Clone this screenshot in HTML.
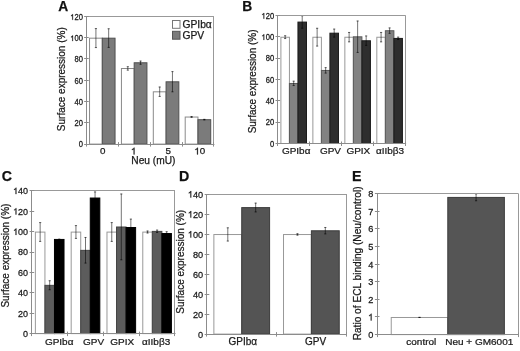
<!DOCTYPE html>
<html><head><meta charset="utf-8"><style>
html,body{margin:0;padding:0;background:#fff;width:520px;height:351px;overflow:hidden}
svg{display:block;will-change:transform;filter:blur(0.3px)}
text{font-family:"Liberation Sans", sans-serif;stroke:#1a1a1a;stroke-width:0.25px}
</style></head><body>
<svg width="520" height="351" viewBox="0 0 520 351">
<rect width="520" height="351" fill="#fff"/>
<rect x="89.54" y="38.18" width="12.76" height="105.92" fill="#ffffff" stroke="#8a8a8a" stroke-width="1"/>
<rect x="102.29" y="38.18" width="12.76" height="105.92" fill="#7b7b7b" stroke="#505050" stroke-width="1"/>
<rect x="121.43" y="68.51" width="12.76" height="75.59" fill="#ffffff" stroke="#8a8a8a" stroke-width="1"/>
<rect x="134.18" y="62.77" width="12.76" height="81.33" fill="#7b7b7b" stroke="#505050" stroke-width="1"/>
<rect x="153.31" y="91.82" width="12.76" height="52.28" fill="#ffffff" stroke="#8a8a8a" stroke-width="1"/>
<rect x="166.07" y="81.81" width="12.76" height="62.29" fill="#7b7b7b" stroke="#505050" stroke-width="1"/>
<rect x="185.20" y="117.04" width="12.76" height="27.06" fill="#ffffff" stroke="#8a8a8a" stroke-width="1"/>
<rect x="197.96" y="119.70" width="12.76" height="24.40" fill="#7b7b7b" stroke="#505050" stroke-width="1"/>
<line x1="95.92" y1="28.28" x2="95.92" y2="47.88" stroke="#000" stroke-width="0.55"/>
<line x1="94.82" y1="28.58" x2="97.02" y2="28.58" stroke="#000" stroke-width="0.55"/>
<line x1="94.82" y1="47.58" x2="97.02" y2="47.58" stroke="#000" stroke-width="0.55"/>
<line x1="108.67" y1="28.48" x2="108.67" y2="47.68" stroke="#000" stroke-width="0.55"/>
<line x1="107.57" y1="28.78" x2="109.77" y2="28.78" stroke="#000" stroke-width="0.55"/>
<line x1="107.57" y1="47.38" x2="109.77" y2="47.38" stroke="#000" stroke-width="0.55"/>
<line x1="127.80" y1="66.41" x2="127.80" y2="70.41" stroke="#000" stroke-width="0.55"/>
<line x1="126.70" y1="66.71" x2="128.90" y2="66.71" stroke="#000" stroke-width="0.55"/>
<line x1="126.70" y1="70.11" x2="128.90" y2="70.11" stroke="#000" stroke-width="0.55"/>
<line x1="140.56" y1="60.77" x2="140.56" y2="64.57" stroke="#000" stroke-width="0.55"/>
<line x1="139.46" y1="61.07" x2="141.66" y2="61.07" stroke="#000" stroke-width="0.55"/>
<line x1="139.46" y1="64.27" x2="141.66" y2="64.27" stroke="#000" stroke-width="0.55"/>
<line x1="159.69" y1="86.72" x2="159.69" y2="96.72" stroke="#000" stroke-width="0.55"/>
<line x1="158.59" y1="87.02" x2="160.79" y2="87.02" stroke="#000" stroke-width="0.55"/>
<line x1="158.59" y1="96.42" x2="160.79" y2="96.42" stroke="#000" stroke-width="0.55"/>
<line x1="172.45" y1="71.31" x2="172.45" y2="92.11" stroke="#000" stroke-width="0.55"/>
<line x1="171.35" y1="71.61" x2="173.55" y2="71.61" stroke="#000" stroke-width="0.55"/>
<line x1="171.35" y1="91.81" x2="173.55" y2="91.81" stroke="#000" stroke-width="0.55"/>
<line x1="191.58" y1="116.24" x2="191.58" y2="117.64" stroke="#000" stroke-width="0.55"/>
<line x1="190.48" y1="116.54" x2="192.68" y2="116.54" stroke="#000" stroke-width="0.55"/>
<line x1="190.48" y1="117.34" x2="192.68" y2="117.34" stroke="#000" stroke-width="0.55"/>
<line x1="204.33" y1="119.00" x2="204.33" y2="120.20" stroke="#000" stroke-width="0.55"/>
<line x1="203.23" y1="119.30" x2="205.43" y2="119.30" stroke="#000" stroke-width="0.55"/>
<line x1="203.23" y1="119.90" x2="205.43" y2="119.90" stroke="#000" stroke-width="0.55"/>
<line x1="86.35" y1="16.50" x2="213.90" y2="16.50" stroke="#999" stroke-width="1"/>
<line x1="213.50" y1="16.40" x2="213.50" y2="144.10" stroke="#999" stroke-width="1"/>
<line x1="86.50" y1="16.40" x2="86.50" y2="144.10" stroke="#8c8c8c" stroke-width="1"/>
<line x1="85.85" y1="144.50" x2="214.40" y2="144.50" stroke="#8c8c8c" stroke-width="1"/>
<line x1="84.15" y1="144.50" x2="88.75" y2="144.50" stroke="#8c8c8c" stroke-width="1"/>
<text transform="translate(82.90 147.49) scale(1 1.08)" font-size="7.6" text-anchor="end" font-weight="normal" fill="#1a1a1a">0</text>
<line x1="84.15" y1="122.50" x2="88.75" y2="122.50" stroke="#8c8c8c" stroke-width="1"/>
<text transform="translate(82.90 126.21) scale(1 1.08)" font-size="7.6" text-anchor="end" font-weight="normal" fill="#1a1a1a">20</text>
<line x1="84.15" y1="101.50" x2="88.75" y2="101.50" stroke="#8c8c8c" stroke-width="1"/>
<text transform="translate(82.90 104.92) scale(1 1.08)" font-size="7.6" text-anchor="end" font-weight="normal" fill="#1a1a1a">40</text>
<line x1="84.15" y1="80.50" x2="88.75" y2="80.50" stroke="#8c8c8c" stroke-width="1"/>
<text transform="translate(82.90 83.64) scale(1 1.08)" font-size="7.6" text-anchor="end" font-weight="normal" fill="#1a1a1a">60</text>
<line x1="84.15" y1="58.50" x2="88.75" y2="58.50" stroke="#8c8c8c" stroke-width="1"/>
<text transform="translate(82.90 62.36) scale(1 1.08)" font-size="7.6" text-anchor="end" font-weight="normal" fill="#1a1a1a">80</text>
<line x1="84.15" y1="37.50" x2="88.75" y2="37.50" stroke="#8c8c8c" stroke-width="1"/>
<text transform="translate(82.90 41.07) scale(1 1.08)" font-size="7.6" text-anchor="end" font-weight="normal" fill="#1a1a1a">&#8199;00</text>
<path transform="translate(70.220 41.072) scale(0.003711 -0.004008)" d="M 750 0 L 570 0 L 570 1100 C 480 1020 340 950 215 910 L 215 1080 C 390 1140 540 1260 620 1409 L 750 1409 Z" fill="#1a1a1a" stroke="#1a1a1a" stroke-width="0.25" vector-effect="non-scaling-stroke"/>
<line x1="84.15" y1="16.50" x2="88.75" y2="16.50" stroke="#8c8c8c" stroke-width="1"/>
<text transform="translate(82.90 19.79) scale(1 1.08)" font-size="7.6" text-anchor="end" font-weight="normal" fill="#1a1a1a">&#8199;20</text>
<path transform="translate(70.220 19.788) scale(0.003711 -0.004008)" d="M 750 0 L 570 0 L 570 1100 C 480 1020 340 950 215 910 L 215 1080 C 390 1140 540 1260 620 1409 L 750 1409 Z" fill="#1a1a1a" stroke="#1a1a1a" stroke-width="0.25" vector-effect="non-scaling-stroke"/>
<line x1="86.50" y1="142.10" x2="86.50" y2="146.60" stroke="#8c8c8c" stroke-width="1"/>
<line x1="118.50" y1="142.10" x2="118.50" y2="146.60" stroke="#8c8c8c" stroke-width="1"/>
<line x1="150.50" y1="142.10" x2="150.50" y2="146.60" stroke="#8c8c8c" stroke-width="1"/>
<line x1="182.50" y1="142.10" x2="182.50" y2="146.60" stroke="#8c8c8c" stroke-width="1"/>
<line x1="213.50" y1="142.10" x2="213.50" y2="146.60" stroke="#8c8c8c" stroke-width="1"/>
<text x="58.20" y="10.60" font-size="13.8" text-anchor="start" font-weight="bold" fill="#111">A</text>
<rect x="172.50" y="20.50" width="7.50" height="7.80" fill="#fff" stroke="#777" stroke-width="1"/>
<rect x="172.50" y="31.30" width="7.50" height="7.90" fill="#7b7b7b" stroke="#555" stroke-width="1"/>
<text x="182.40" y="28.20" font-size="10.3" text-anchor="start" font-weight="normal" fill="#1a1a1a">GPIb&#945;</text>
<text x="182.40" y="38.80" font-size="10.3" text-anchor="start" font-weight="normal" fill="#1a1a1a">GPV</text>
<text x="100.00" y="154.40" font-size="9.8" text-anchor="start" font-weight="normal" fill="#1a1a1a">0</text>
<text x="130.90" y="154.40" font-size="9.8" text-anchor="start" font-weight="normal" fill="#1a1a1a">&#8199;</text>
<path transform="translate(130.900 154.400) scale(0.004785 -0.004785)" d="M 750 0 L 570 0 L 570 1100 C 480 1020 340 950 215 910 L 215 1080 C 390 1140 540 1260 620 1409 L 750 1409 Z" fill="#1a1a1a" stroke="#1a1a1a" stroke-width="0.25" vector-effect="non-scaling-stroke"/>
<text x="165.40" y="154.40" font-size="9.8" text-anchor="start" font-weight="normal" fill="#1a1a1a">5</text>
<text x="194.30" y="154.40" font-size="9.8" text-anchor="start" font-weight="normal" fill="#1a1a1a">&#8199;0</text>
<path transform="translate(194.300 154.400) scale(0.004785 -0.004785)" d="M 750 0 L 570 0 L 570 1100 C 480 1020 340 950 215 910 L 215 1080 C 390 1140 540 1260 620 1409 L 750 1409 Z" fill="#1a1a1a" stroke="#1a1a1a" stroke-width="0.25" vector-effect="non-scaling-stroke"/>
<text x="131.30" y="163.80" font-size="10.2" text-anchor="start" font-weight="normal" fill="#1a1a1a">Neu (mU)</text>
<text x="65.00" y="79.20" font-size="10" text-anchor="middle" font-weight="normal" fill="#1a1a1a" transform="rotate(-90 65.00 79.20)">Surface expression (%)</text>
<rect x="280.90" y="37.25" width="8.53" height="106.25" fill="#ffffff" stroke="#999" stroke-width="1"/>
<rect x="289.42" y="83.47" width="8.53" height="60.03" fill="#828282" stroke="#5a5a5a" stroke-width="1"/>
<rect x="297.95" y="22.09" width="8.53" height="121.41" fill="#2e2e2e" stroke="#1a1a1a" stroke-width="1"/>
<rect x="312.87" y="37.25" width="8.53" height="106.25" fill="#ffffff" stroke="#999" stroke-width="1"/>
<rect x="321.40" y="70.45" width="8.53" height="73.05" fill="#828282" stroke="#5a5a5a" stroke-width="1"/>
<rect x="329.93" y="33.19" width="8.53" height="110.31" fill="#2e2e2e" stroke="#1a1a1a" stroke-width="1"/>
<rect x="344.85" y="37.25" width="8.53" height="106.25" fill="#ffffff" stroke="#999" stroke-width="1"/>
<rect x="353.37" y="36.82" width="8.53" height="106.68" fill="#828282" stroke="#5a5a5a" stroke-width="1"/>
<rect x="361.90" y="40.77" width="8.53" height="102.73" fill="#2e2e2e" stroke="#1a1a1a" stroke-width="1"/>
<rect x="376.82" y="37.25" width="8.53" height="106.25" fill="#ffffff" stroke="#999" stroke-width="1"/>
<rect x="385.35" y="30.74" width="8.53" height="112.76" fill="#828282" stroke="#5a5a5a" stroke-width="1"/>
<rect x="393.88" y="38.42" width="8.53" height="105.08" fill="#2e2e2e" stroke="#1a1a1a" stroke-width="1"/>
<line x1="285.16" y1="35.45" x2="285.16" y2="38.85" stroke="#000" stroke-width="0.55"/>
<line x1="284.06" y1="35.75" x2="286.26" y2="35.75" stroke="#000" stroke-width="0.55"/>
<line x1="284.06" y1="38.55" x2="286.26" y2="38.55" stroke="#000" stroke-width="0.55"/>
<line x1="293.69" y1="80.87" x2="293.69" y2="85.87" stroke="#000" stroke-width="0.55"/>
<line x1="292.59" y1="81.17" x2="294.79" y2="81.17" stroke="#000" stroke-width="0.55"/>
<line x1="292.59" y1="85.57" x2="294.79" y2="85.57" stroke="#000" stroke-width="0.55"/>
<line x1="302.21" y1="15.49" x2="302.21" y2="28.49" stroke="#000" stroke-width="0.55"/>
<line x1="301.11" y1="15.79" x2="303.31" y2="15.79" stroke="#000" stroke-width="0.55"/>
<line x1="301.11" y1="28.19" x2="303.31" y2="28.19" stroke="#000" stroke-width="0.55"/>
<line x1="317.14" y1="27.95" x2="317.14" y2="46.35" stroke="#000" stroke-width="0.55"/>
<line x1="316.04" y1="28.25" x2="318.24" y2="28.25" stroke="#000" stroke-width="0.55"/>
<line x1="316.04" y1="46.05" x2="318.24" y2="46.05" stroke="#000" stroke-width="0.55"/>
<line x1="325.66" y1="67.35" x2="325.66" y2="73.35" stroke="#000" stroke-width="0.55"/>
<line x1="324.56" y1="67.65" x2="326.76" y2="67.65" stroke="#000" stroke-width="0.55"/>
<line x1="324.56" y1="73.05" x2="326.76" y2="73.05" stroke="#000" stroke-width="0.55"/>
<line x1="334.19" y1="28.79" x2="334.19" y2="37.39" stroke="#000" stroke-width="0.55"/>
<line x1="333.09" y1="29.09" x2="335.29" y2="29.09" stroke="#000" stroke-width="0.55"/>
<line x1="333.09" y1="37.09" x2="335.29" y2="37.09" stroke="#000" stroke-width="0.55"/>
<line x1="349.11" y1="32.15" x2="349.11" y2="42.15" stroke="#000" stroke-width="0.55"/>
<line x1="348.01" y1="32.45" x2="350.21" y2="32.45" stroke="#000" stroke-width="0.55"/>
<line x1="348.01" y1="41.85" x2="350.21" y2="41.85" stroke="#000" stroke-width="0.55"/>
<line x1="357.64" y1="20.72" x2="357.64" y2="52.72" stroke="#000" stroke-width="0.55"/>
<line x1="356.54" y1="21.02" x2="358.74" y2="21.02" stroke="#000" stroke-width="0.55"/>
<line x1="356.54" y1="52.42" x2="358.74" y2="52.42" stroke="#000" stroke-width="0.55"/>
<line x1="366.16" y1="35.67" x2="366.16" y2="45.67" stroke="#000" stroke-width="0.55"/>
<line x1="365.06" y1="35.97" x2="367.26" y2="35.97" stroke="#000" stroke-width="0.55"/>
<line x1="365.06" y1="45.37" x2="367.26" y2="45.37" stroke="#000" stroke-width="0.55"/>
<line x1="381.09" y1="32.15" x2="381.09" y2="42.15" stroke="#000" stroke-width="0.55"/>
<line x1="379.99" y1="32.45" x2="382.19" y2="32.45" stroke="#000" stroke-width="0.55"/>
<line x1="379.99" y1="41.85" x2="382.19" y2="41.85" stroke="#000" stroke-width="0.55"/>
<line x1="389.61" y1="27.64" x2="389.61" y2="33.64" stroke="#000" stroke-width="0.55"/>
<line x1="388.51" y1="27.94" x2="390.71" y2="27.94" stroke="#000" stroke-width="0.55"/>
<line x1="388.51" y1="33.34" x2="390.71" y2="33.34" stroke="#000" stroke-width="0.55"/>
<line x1="398.14" y1="36.82" x2="398.14" y2="39.82" stroke="#000" stroke-width="0.55"/>
<line x1="397.04" y1="37.12" x2="399.24" y2="37.12" stroke="#000" stroke-width="0.55"/>
<line x1="397.04" y1="39.52" x2="399.24" y2="39.52" stroke="#000" stroke-width="0.55"/>
<line x1="277.70" y1="15.50" x2="405.60" y2="15.50" stroke="#999" stroke-width="1"/>
<line x1="405.50" y1="15.40" x2="405.50" y2="143.50" stroke="#999" stroke-width="1"/>
<line x1="277.50" y1="15.40" x2="277.50" y2="143.50" stroke="#8c8c8c" stroke-width="1"/>
<line x1="277.20" y1="143.50" x2="406.10" y2="143.50" stroke="#8c8c8c" stroke-width="1"/>
<line x1="275.50" y1="143.50" x2="280.10" y2="143.50" stroke="#8c8c8c" stroke-width="1"/>
<text transform="translate(274.10 146.74) scale(1 1.08)" font-size="7.6" text-anchor="end" font-weight="normal" fill="#1a1a1a">0</text>
<line x1="275.50" y1="122.50" x2="280.10" y2="122.50" stroke="#8c8c8c" stroke-width="1"/>
<text transform="translate(274.10 125.39) scale(1 1.08)" font-size="7.6" text-anchor="end" font-weight="normal" fill="#1a1a1a">20</text>
<line x1="275.50" y1="100.50" x2="280.10" y2="100.50" stroke="#8c8c8c" stroke-width="1"/>
<text transform="translate(274.10 104.04) scale(1 1.08)" font-size="7.6" text-anchor="end" font-weight="normal" fill="#1a1a1a">40</text>
<line x1="275.50" y1="79.50" x2="280.10" y2="79.50" stroke="#8c8c8c" stroke-width="1"/>
<text transform="translate(274.10 82.69) scale(1 1.08)" font-size="7.6" text-anchor="end" font-weight="normal" fill="#1a1a1a">60</text>
<line x1="275.50" y1="58.50" x2="280.10" y2="58.50" stroke="#8c8c8c" stroke-width="1"/>
<text transform="translate(274.10 61.34) scale(1 1.08)" font-size="7.6" text-anchor="end" font-weight="normal" fill="#1a1a1a">80</text>
<line x1="275.50" y1="36.50" x2="280.10" y2="36.50" stroke="#8c8c8c" stroke-width="1"/>
<text transform="translate(274.10 39.99) scale(1 1.08)" font-size="7.6" text-anchor="end" font-weight="normal" fill="#1a1a1a">&#8199;00</text>
<path transform="translate(261.420 39.988) scale(0.003711 -0.004008)" d="M 750 0 L 570 0 L 570 1100 C 480 1020 340 950 215 910 L 215 1080 C 390 1140 540 1260 620 1409 L 750 1409 Z" fill="#1a1a1a" stroke="#1a1a1a" stroke-width="0.25" vector-effect="non-scaling-stroke"/>
<line x1="275.50" y1="15.50" x2="280.10" y2="15.50" stroke="#8c8c8c" stroke-width="1"/>
<text transform="translate(274.10 18.64) scale(1 1.08)" font-size="7.6" text-anchor="end" font-weight="normal" fill="#1a1a1a">&#8199;20</text>
<path transform="translate(261.420 18.638) scale(0.003711 -0.004008)" d="M 750 0 L 570 0 L 570 1100 C 480 1020 340 950 215 910 L 215 1080 C 390 1140 540 1260 620 1409 L 750 1409 Z" fill="#1a1a1a" stroke="#1a1a1a" stroke-width="0.25" vector-effect="non-scaling-stroke"/>
<line x1="277.50" y1="141.50" x2="277.50" y2="146.00" stroke="#8c8c8c" stroke-width="1"/>
<line x1="309.50" y1="141.50" x2="309.50" y2="146.00" stroke="#8c8c8c" stroke-width="1"/>
<line x1="341.50" y1="141.50" x2="341.50" y2="146.00" stroke="#8c8c8c" stroke-width="1"/>
<line x1="373.50" y1="141.50" x2="373.50" y2="146.00" stroke="#8c8c8c" stroke-width="1"/>
<line x1="405.50" y1="141.50" x2="405.50" y2="146.00" stroke="#8c8c8c" stroke-width="1"/>
<text x="242.30" y="10.60" font-size="13.8" text-anchor="start" font-weight="bold" fill="#111">B</text>
<text transform="translate(281.90 153.70) scale(1 0.97)" font-size="10" text-anchor="start" font-weight="normal" fill="#1a1a1a">GPIb&#945;</text>
<text transform="translate(319.90 153.70) scale(1 0.97)" font-size="10" text-anchor="start" font-weight="normal" fill="#1a1a1a">GPV</text>
<text transform="translate(346.40 153.70) scale(1 0.97)" font-size="10" text-anchor="start" font-weight="normal" fill="#1a1a1a">GPIX</text>
<text transform="translate(375.90 153.70) scale(1 0.97)" font-size="10" text-anchor="start" font-weight="normal" fill="#1a1a1a">&#945;IIb&#946;3</text>
<text x="256.00" y="81.40" font-size="10" text-anchor="middle" font-weight="normal" fill="#1a1a1a" transform="rotate(-90 256.00 81.40)">Surface expression (%)</text>
<rect x="35.38" y="232.10" width="9.55" height="101.50" fill="#ffffff" stroke="#999" stroke-width="1"/>
<rect x="44.93" y="285.34" width="9.55" height="48.26" fill="#5c5c5c" stroke="#444" stroke-width="1"/>
<rect x="54.47" y="239.44" width="9.55" height="94.16" fill="#000000" stroke="#000" stroke-width="1"/>
<rect x="71.18" y="232.10" width="9.55" height="101.50" fill="#ffffff" stroke="#999" stroke-width="1"/>
<rect x="80.73" y="250.36" width="9.55" height="83.24" fill="#5c5c5c" stroke="#444" stroke-width="1"/>
<rect x="90.27" y="198.03" width="9.55" height="135.57" fill="#000000" stroke="#000" stroke-width="1"/>
<rect x="106.98" y="232.10" width="9.55" height="101.50" fill="#ffffff" stroke="#999" stroke-width="1"/>
<rect x="116.53" y="227.00" width="9.55" height="106.60" fill="#5c5c5c" stroke="#444" stroke-width="1"/>
<rect x="126.07" y="227.51" width="9.55" height="106.09" fill="#000000" stroke="#000" stroke-width="1"/>
<rect x="142.78" y="232.10" width="9.55" height="101.50" fill="#ffffff" stroke="#999" stroke-width="1"/>
<rect x="152.33" y="231.39" width="9.55" height="102.21" fill="#5c5c5c" stroke="#444" stroke-width="1"/>
<rect x="161.87" y="233.53" width="9.55" height="100.07" fill="#000000" stroke="#000" stroke-width="1"/>
<line x1="40.15" y1="222.30" x2="40.15" y2="241.70" stroke="#000" stroke-width="0.55"/>
<line x1="39.05" y1="222.60" x2="41.25" y2="222.60" stroke="#000" stroke-width="0.55"/>
<line x1="39.05" y1="241.40" x2="41.25" y2="241.40" stroke="#000" stroke-width="0.55"/>
<line x1="49.70" y1="280.44" x2="49.70" y2="290.04" stroke="#000" stroke-width="0.55"/>
<line x1="48.60" y1="280.74" x2="50.80" y2="280.74" stroke="#000" stroke-width="0.55"/>
<line x1="48.60" y1="289.74" x2="50.80" y2="289.74" stroke="#000" stroke-width="0.55"/>
<line x1="59.25" y1="238.84" x2="59.25" y2="239.84" stroke="#000" stroke-width="0.55"/>
<line x1="58.15" y1="239.14" x2="60.35" y2="239.14" stroke="#000" stroke-width="0.55"/>
<line x1="58.15" y1="239.54" x2="60.35" y2="239.54" stroke="#000" stroke-width="0.55"/>
<line x1="75.95" y1="225.30" x2="75.95" y2="238.70" stroke="#000" stroke-width="0.55"/>
<line x1="74.85" y1="225.60" x2="77.05" y2="225.60" stroke="#000" stroke-width="0.55"/>
<line x1="74.85" y1="238.40" x2="77.05" y2="238.40" stroke="#000" stroke-width="0.55"/>
<line x1="85.50" y1="237.16" x2="85.50" y2="263.36" stroke="#000" stroke-width="0.55"/>
<line x1="84.40" y1="237.46" x2="86.60" y2="237.46" stroke="#000" stroke-width="0.55"/>
<line x1="84.40" y1="263.06" x2="86.60" y2="263.06" stroke="#000" stroke-width="0.55"/>
<line x1="95.05" y1="191.63" x2="95.05" y2="204.23" stroke="#000" stroke-width="0.55"/>
<line x1="93.95" y1="191.93" x2="96.15" y2="191.93" stroke="#000" stroke-width="0.55"/>
<line x1="93.95" y1="203.93" x2="96.15" y2="203.93" stroke="#000" stroke-width="0.55"/>
<line x1="111.75" y1="222.30" x2="111.75" y2="241.70" stroke="#000" stroke-width="0.55"/>
<line x1="110.65" y1="222.60" x2="112.85" y2="222.60" stroke="#000" stroke-width="0.55"/>
<line x1="110.65" y1="241.40" x2="112.85" y2="241.40" stroke="#000" stroke-width="0.55"/>
<line x1="121.30" y1="193.70" x2="121.30" y2="260.10" stroke="#000" stroke-width="0.55"/>
<line x1="120.20" y1="194.00" x2="122.40" y2="194.00" stroke="#000" stroke-width="0.55"/>
<line x1="120.20" y1="259.80" x2="122.40" y2="259.80" stroke="#000" stroke-width="0.55"/>
<line x1="130.85" y1="218.81" x2="130.85" y2="236.01" stroke="#000" stroke-width="0.55"/>
<line x1="129.75" y1="219.11" x2="131.95" y2="219.11" stroke="#000" stroke-width="0.55"/>
<line x1="129.75" y1="235.71" x2="131.95" y2="235.71" stroke="#000" stroke-width="0.55"/>
<line x1="147.55" y1="230.70" x2="147.55" y2="233.30" stroke="#000" stroke-width="0.55"/>
<line x1="146.45" y1="231.00" x2="148.65" y2="231.00" stroke="#000" stroke-width="0.55"/>
<line x1="146.45" y1="233.00" x2="148.65" y2="233.00" stroke="#000" stroke-width="0.55"/>
<line x1="157.10" y1="229.79" x2="157.10" y2="232.79" stroke="#000" stroke-width="0.55"/>
<line x1="156.00" y1="230.09" x2="158.20" y2="230.09" stroke="#000" stroke-width="0.55"/>
<line x1="156.00" y1="232.49" x2="158.20" y2="232.49" stroke="#000" stroke-width="0.55"/>
<line x1="166.65" y1="231.43" x2="166.65" y2="235.43" stroke="#000" stroke-width="0.55"/>
<line x1="165.55" y1="231.73" x2="167.75" y2="231.73" stroke="#000" stroke-width="0.55"/>
<line x1="165.55" y1="235.13" x2="167.75" y2="235.13" stroke="#000" stroke-width="0.55"/>
<line x1="31.80" y1="190.50" x2="175.00" y2="190.50" stroke="#999" stroke-width="1"/>
<line x1="174.50" y1="190.80" x2="174.50" y2="333.60" stroke="#999" stroke-width="1"/>
<line x1="31.50" y1="190.80" x2="31.50" y2="333.60" stroke="#8c8c8c" stroke-width="1"/>
<line x1="31.30" y1="333.50" x2="175.50" y2="333.50" stroke="#8c8c8c" stroke-width="1"/>
<line x1="29.60" y1="333.50" x2="34.20" y2="333.50" stroke="#8c8c8c" stroke-width="1"/>
<text transform="translate(28.10 336.92) scale(1 1.03)" font-size="9.0" text-anchor="end" font-weight="normal" fill="#1a1a1a">0</text>
<line x1="29.60" y1="313.50" x2="34.20" y2="313.50" stroke="#8c8c8c" stroke-width="1"/>
<text transform="translate(28.10 316.52) scale(1 1.03)" font-size="9.0" text-anchor="end" font-weight="normal" fill="#1a1a1a">20</text>
<line x1="29.60" y1="292.50" x2="34.20" y2="292.50" stroke="#8c8c8c" stroke-width="1"/>
<text transform="translate(28.10 296.12) scale(1 1.03)" font-size="9.0" text-anchor="end" font-weight="normal" fill="#1a1a1a">40</text>
<line x1="29.60" y1="272.50" x2="34.20" y2="272.50" stroke="#8c8c8c" stroke-width="1"/>
<text transform="translate(28.10 275.72) scale(1 1.03)" font-size="9.0" text-anchor="end" font-weight="normal" fill="#1a1a1a">60</text>
<line x1="29.60" y1="252.50" x2="34.20" y2="252.50" stroke="#8c8c8c" stroke-width="1"/>
<text transform="translate(28.10 255.32) scale(1 1.03)" font-size="9.0" text-anchor="end" font-weight="normal" fill="#1a1a1a">80</text>
<line x1="29.60" y1="231.50" x2="34.20" y2="231.50" stroke="#8c8c8c" stroke-width="1"/>
<text transform="translate(28.10 234.92) scale(1 1.03)" font-size="9.0" text-anchor="end" font-weight="normal" fill="#1a1a1a">&#8199;00</text>
<path transform="translate(13.084 234.919) scale(0.004395 -0.004526)" d="M 750 0 L 570 0 L 570 1100 C 480 1020 340 950 215 910 L 215 1080 C 390 1140 540 1260 620 1409 L 750 1409 Z" fill="#1a1a1a" stroke="#1a1a1a" stroke-width="0.25" vector-effect="non-scaling-stroke"/>
<line x1="29.60" y1="211.50" x2="34.20" y2="211.50" stroke="#8c8c8c" stroke-width="1"/>
<text transform="translate(28.10 214.52) scale(1 1.03)" font-size="9.0" text-anchor="end" font-weight="normal" fill="#1a1a1a">&#8199;20</text>
<path transform="translate(13.084 214.519) scale(0.004395 -0.004526)" d="M 750 0 L 570 0 L 570 1100 C 480 1020 340 950 215 910 L 215 1080 C 390 1140 540 1260 620 1409 L 750 1409 Z" fill="#1a1a1a" stroke="#1a1a1a" stroke-width="0.25" vector-effect="non-scaling-stroke"/>
<line x1="29.60" y1="190.50" x2="34.20" y2="190.50" stroke="#8c8c8c" stroke-width="1"/>
<text transform="translate(28.10 194.12) scale(1 1.03)" font-size="9.0" text-anchor="end" font-weight="normal" fill="#1a1a1a">&#8199;40</text>
<path transform="translate(13.084 194.119) scale(0.004395 -0.004526)" d="M 750 0 L 570 0 L 570 1100 C 480 1020 340 950 215 910 L 215 1080 C 390 1140 540 1260 620 1409 L 750 1409 Z" fill="#1a1a1a" stroke="#1a1a1a" stroke-width="0.25" vector-effect="non-scaling-stroke"/>
<line x1="31.50" y1="331.60" x2="31.50" y2="336.10" stroke="#8c8c8c" stroke-width="1"/>
<line x1="67.50" y1="331.60" x2="67.50" y2="336.10" stroke="#8c8c8c" stroke-width="1"/>
<line x1="103.50" y1="331.60" x2="103.50" y2="336.10" stroke="#8c8c8c" stroke-width="1"/>
<line x1="139.50" y1="331.60" x2="139.50" y2="336.10" stroke="#8c8c8c" stroke-width="1"/>
<line x1="174.50" y1="331.60" x2="174.50" y2="336.10" stroke="#8c8c8c" stroke-width="1"/>
<text x="1.80" y="180.60" font-size="14.2" text-anchor="start" font-weight="bold" fill="#111">C</text>
<text transform="translate(44.90 345.40) scale(1 0.96)" font-size="10" text-anchor="start" font-weight="normal" fill="#1a1a1a">GPIb&#945;</text>
<text transform="translate(83.00 345.40) scale(1 0.96)" font-size="10" text-anchor="start" font-weight="normal" fill="#1a1a1a">GPV</text>
<text transform="translate(110.20 345.40) scale(1 0.96)" font-size="10" text-anchor="start" font-weight="normal" fill="#1a1a1a">GPIX</text>
<text transform="translate(142.00 345.40) scale(1 0.96)" font-size="10" text-anchor="start" font-weight="normal" fill="#1a1a1a">&#945;IIb&#946;3</text>
<text x="9.50" y="255.60" font-size="10" text-anchor="middle" font-weight="normal" fill="#1a1a1a" transform="rotate(-90 9.50 255.60)">Surface expression (%)</text>
<rect x="213.87" y="234.53" width="27.86" height="99.57" fill="#ffffff" stroke="#999" stroke-width="1"/>
<rect x="241.73" y="207.61" width="27.86" height="126.49" fill="#545454" stroke="#3c3c3c" stroke-width="1"/>
<rect x="283.51" y="234.53" width="27.86" height="99.57" fill="#ffffff" stroke="#999" stroke-width="1"/>
<rect x="311.38" y="230.78" width="27.86" height="103.32" fill="#545454" stroke="#3c3c3c" stroke-width="1"/>
<line x1="227.80" y1="227.53" x2="227.80" y2="241.33" stroke="#000" stroke-width="0.55"/>
<line x1="226.70" y1="227.83" x2="228.90" y2="227.83" stroke="#000" stroke-width="0.55"/>
<line x1="226.70" y1="241.03" x2="228.90" y2="241.03" stroke="#000" stroke-width="0.55"/>
<line x1="255.66" y1="202.81" x2="255.66" y2="212.21" stroke="#000" stroke-width="0.55"/>
<line x1="254.56" y1="203.11" x2="256.76" y2="203.11" stroke="#000" stroke-width="0.55"/>
<line x1="254.56" y1="211.91" x2="256.76" y2="211.91" stroke="#000" stroke-width="0.55"/>
<line x1="297.44" y1="233.43" x2="297.44" y2="235.43" stroke="#000" stroke-width="0.55"/>
<line x1="296.34" y1="233.73" x2="298.55" y2="233.73" stroke="#000" stroke-width="0.55"/>
<line x1="296.34" y1="235.13" x2="298.55" y2="235.13" stroke="#000" stroke-width="0.55"/>
<line x1="325.31" y1="227.18" x2="325.31" y2="234.18" stroke="#000" stroke-width="0.55"/>
<line x1="324.20" y1="227.48" x2="326.41" y2="227.48" stroke="#000" stroke-width="0.55"/>
<line x1="324.20" y1="233.88" x2="326.41" y2="233.88" stroke="#000" stroke-width="0.55"/>
<line x1="206.90" y1="194.50" x2="346.20" y2="194.50" stroke="#999" stroke-width="1"/>
<line x1="346.50" y1="194.00" x2="346.50" y2="334.10" stroke="#999" stroke-width="1"/>
<line x1="206.50" y1="194.00" x2="206.50" y2="334.10" stroke="#8c8c8c" stroke-width="1"/>
<line x1="206.40" y1="334.50" x2="346.70" y2="334.50" stroke="#8c8c8c" stroke-width="1"/>
<line x1="204.70" y1="334.50" x2="209.30" y2="334.50" stroke="#8c8c8c" stroke-width="1"/>
<text transform="translate(203.20 337.69) scale(1 1.03)" font-size="9.2" text-anchor="end" font-weight="normal" fill="#1a1a1a">0</text>
<line x1="204.70" y1="314.50" x2="209.30" y2="314.50" stroke="#8c8c8c" stroke-width="1"/>
<text transform="translate(203.20 317.68) scale(1 1.03)" font-size="9.2" text-anchor="end" font-weight="normal" fill="#1a1a1a">20</text>
<line x1="204.70" y1="294.50" x2="209.30" y2="294.50" stroke="#8c8c8c" stroke-width="1"/>
<text transform="translate(203.20 297.66) scale(1 1.03)" font-size="9.2" text-anchor="end" font-weight="normal" fill="#1a1a1a">40</text>
<line x1="204.70" y1="274.50" x2="209.30" y2="274.50" stroke="#8c8c8c" stroke-width="1"/>
<text transform="translate(203.20 277.65) scale(1 1.03)" font-size="9.2" text-anchor="end" font-weight="normal" fill="#1a1a1a">60</text>
<line x1="204.70" y1="254.50" x2="209.30" y2="254.50" stroke="#8c8c8c" stroke-width="1"/>
<text transform="translate(203.20 257.64) scale(1 1.03)" font-size="9.2" text-anchor="end" font-weight="normal" fill="#1a1a1a">80</text>
<line x1="204.70" y1="234.50" x2="209.30" y2="234.50" stroke="#8c8c8c" stroke-width="1"/>
<text transform="translate(203.20 237.62) scale(1 1.03)" font-size="9.2" text-anchor="end" font-weight="normal" fill="#1a1a1a">&#8199;00</text>
<path transform="translate(187.850 237.621) scale(0.004492 -0.004627)" d="M 750 0 L 570 0 L 570 1100 C 480 1020 340 950 215 910 L 215 1080 C 390 1140 540 1260 620 1409 L 750 1409 Z" fill="#1a1a1a" stroke="#1a1a1a" stroke-width="0.25" vector-effect="non-scaling-stroke"/>
<line x1="204.70" y1="214.50" x2="209.30" y2="214.50" stroke="#8c8c8c" stroke-width="1"/>
<text transform="translate(203.20 217.61) scale(1 1.03)" font-size="9.2" text-anchor="end" font-weight="normal" fill="#1a1a1a">&#8199;20</text>
<path transform="translate(187.850 217.607) scale(0.004492 -0.004627)" d="M 750 0 L 570 0 L 570 1100 C 480 1020 340 950 215 910 L 215 1080 C 390 1140 540 1260 620 1409 L 750 1409 Z" fill="#1a1a1a" stroke="#1a1a1a" stroke-width="0.25" vector-effect="non-scaling-stroke"/>
<line x1="204.70" y1="194.50" x2="209.30" y2="194.50" stroke="#8c8c8c" stroke-width="1"/>
<text transform="translate(203.20 197.59) scale(1 1.03)" font-size="9.2" text-anchor="end" font-weight="normal" fill="#1a1a1a">&#8199;40</text>
<path transform="translate(187.850 197.592) scale(0.004492 -0.004627)" d="M 750 0 L 570 0 L 570 1100 C 480 1020 340 950 215 910 L 215 1080 C 390 1140 540 1260 620 1409 L 750 1409 Z" fill="#1a1a1a" stroke="#1a1a1a" stroke-width="0.25" vector-effect="non-scaling-stroke"/>
<line x1="206.50" y1="332.10" x2="206.50" y2="336.60" stroke="#8c8c8c" stroke-width="1"/>
<line x1="276.50" y1="332.10" x2="276.50" y2="336.60" stroke="#8c8c8c" stroke-width="1"/>
<line x1="346.50" y1="332.10" x2="346.50" y2="336.60" stroke="#8c8c8c" stroke-width="1"/>
<text x="178.90" y="180.60" font-size="14.2" text-anchor="start" font-weight="bold" fill="#111">D</text>
<text x="228.50" y="344.90" font-size="10" text-anchor="start" font-weight="normal" fill="#1a1a1a">GPIb&#945;</text>
<text x="305.00" y="344.90" font-size="10" text-anchor="start" font-weight="normal" fill="#1a1a1a">GPV</text>
<text x="184.50" y="261.80" font-size="10" text-anchor="middle" font-weight="normal" fill="#1a1a1a" transform="rotate(-90 184.50 261.80)">Surface expression (%)</text>
<rect x="391.24" y="317.49" width="56.56" height="17.11" fill="#ffffff" stroke="#999" stroke-width="1"/>
<rect x="447.80" y="197.42" width="56.56" height="137.18" fill="#555555" stroke="#3c3c3c" stroke-width="1"/>
<line x1="419.52" y1="316.99" x2="419.52" y2="317.79" stroke="#000" stroke-width="0.55"/>
<line x1="418.42" y1="317.29" x2="420.62" y2="317.29" stroke="#000" stroke-width="0.55"/>
<line x1="418.42" y1="317.49" x2="420.62" y2="317.49" stroke="#000" stroke-width="0.55"/>
<line x1="476.08" y1="193.57" x2="476.08" y2="201.07" stroke="#000" stroke-width="0.55"/>
<line x1="474.98" y1="193.87" x2="477.18" y2="193.87" stroke="#000" stroke-width="0.55"/>
<line x1="474.98" y1="200.77" x2="477.18" y2="200.77" stroke="#000" stroke-width="0.55"/>
<line x1="377.10" y1="193.50" x2="518.50" y2="193.50" stroke="#999" stroke-width="1"/>
<line x1="518.50" y1="193.75" x2="518.50" y2="334.60" stroke="#999" stroke-width="1"/>
<line x1="377.50" y1="193.75" x2="377.50" y2="334.60" stroke="#8c8c8c" stroke-width="1"/>
<line x1="376.60" y1="334.50" x2="519.00" y2="334.50" stroke="#8c8c8c" stroke-width="1"/>
<line x1="374.90" y1="334.50" x2="379.50" y2="334.50" stroke="#8c8c8c" stroke-width="1"/>
<text transform="translate(373.30 338.12) scale(1 1.07)" font-size="9.2" text-anchor="end" font-weight="normal" fill="#1a1a1a">0</text>
<line x1="374.90" y1="316.50" x2="379.50" y2="316.50" stroke="#8c8c8c" stroke-width="1"/>
<text transform="translate(373.30 320.52) scale(1 1.07)" font-size="9.2" text-anchor="end" font-weight="normal" fill="#1a1a1a">&#8199;</text>
<path transform="translate(368.183 320.518) scale(0.004492 -0.004807)" d="M 750 0 L 570 0 L 570 1100 C 480 1020 340 950 215 910 L 215 1080 C 390 1140 540 1260 620 1409 L 750 1409 Z" fill="#1a1a1a" stroke="#1a1a1a" stroke-width="0.25" vector-effect="non-scaling-stroke"/>
<line x1="374.90" y1="299.50" x2="379.50" y2="299.50" stroke="#8c8c8c" stroke-width="1"/>
<text transform="translate(373.30 302.91) scale(1 1.07)" font-size="9.2" text-anchor="end" font-weight="normal" fill="#1a1a1a">2</text>
<line x1="374.90" y1="281.50" x2="379.50" y2="281.50" stroke="#8c8c8c" stroke-width="1"/>
<text transform="translate(373.30 285.31) scale(1 1.07)" font-size="9.2" text-anchor="end" font-weight="normal" fill="#1a1a1a">3</text>
<line x1="374.90" y1="264.50" x2="379.50" y2="264.50" stroke="#8c8c8c" stroke-width="1"/>
<text transform="translate(373.30 267.70) scale(1 1.07)" font-size="9.2" text-anchor="end" font-weight="normal" fill="#1a1a1a">4</text>
<line x1="374.90" y1="246.50" x2="379.50" y2="246.50" stroke="#8c8c8c" stroke-width="1"/>
<text transform="translate(373.30 250.09) scale(1 1.07)" font-size="9.2" text-anchor="end" font-weight="normal" fill="#1a1a1a">5</text>
<line x1="374.90" y1="228.50" x2="379.50" y2="228.50" stroke="#8c8c8c" stroke-width="1"/>
<text transform="translate(373.30 232.49) scale(1 1.07)" font-size="9.2" text-anchor="end" font-weight="normal" fill="#1a1a1a">6</text>
<line x1="374.90" y1="211.50" x2="379.50" y2="211.50" stroke="#8c8c8c" stroke-width="1"/>
<text transform="translate(373.30 214.88) scale(1 1.07)" font-size="9.2" text-anchor="end" font-weight="normal" fill="#1a1a1a">7</text>
<line x1="374.90" y1="193.50" x2="379.50" y2="193.50" stroke="#8c8c8c" stroke-width="1"/>
<text transform="translate(373.30 197.27) scale(1 1.07)" font-size="9.2" text-anchor="end" font-weight="normal" fill="#1a1a1a">8</text>
<line x1="377.50" y1="332.60" x2="377.50" y2="337.10" stroke="#8c8c8c" stroke-width="1"/>
<line x1="518.50" y1="332.60" x2="518.50" y2="337.10" stroke="#8c8c8c" stroke-width="1"/>
<text x="352.10" y="180.60" font-size="14.2" text-anchor="start" font-weight="bold" fill="#111">E</text>
<text transform="translate(406.30 345.30) scale(1 0.97)" font-size="10" text-anchor="start" font-weight="normal" fill="#1a1a1a">control</text>
<text transform="translate(445.20 345.30) scale(1 0.97)" font-size="10" text-anchor="start" font-weight="normal" fill="#1a1a1a">Neu + GM6001</text>
<text x="361.30" y="263.40" font-size="10.15" text-anchor="middle" font-weight="normal" fill="#1a1a1a" transform="rotate(-90 361.30 263.40)">Ratio of ECL binding (Neu/control)</text>
</svg>
</body></html>
